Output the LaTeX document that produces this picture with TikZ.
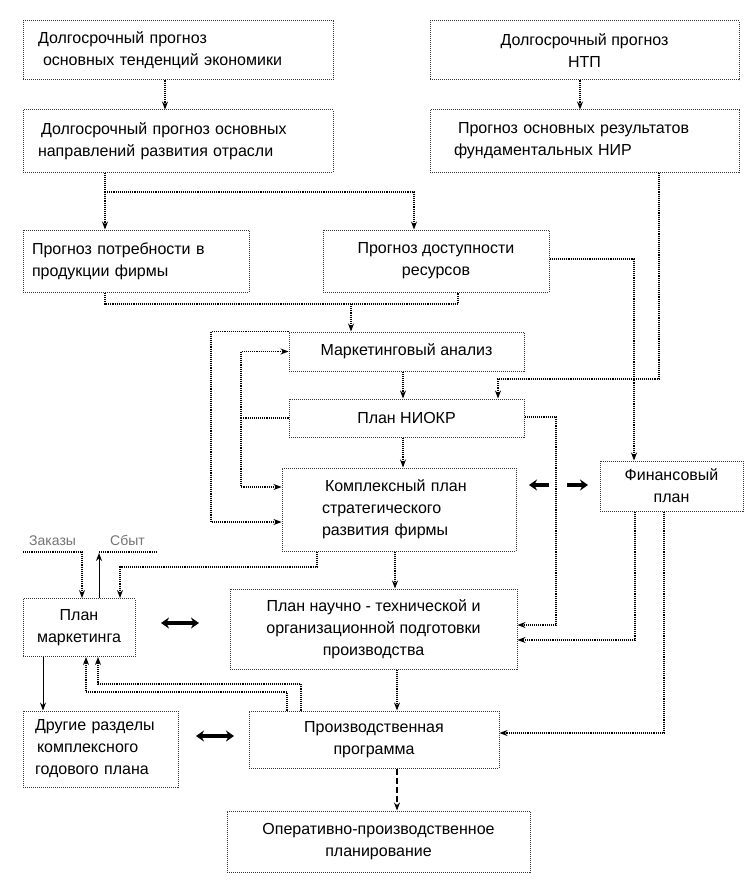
\documentclass[tikz,border=0pt]{standalone}
\usepackage{fontspec}
\setmainfont{Liberation Sans}
\usetikzlibrary{arrows.meta,calc}
\begin{document}
\begin{tikzpicture}[x=1pt,y=-1pt,
 box/.style={draw=black!80, densely dotted, line width=1pt, inner ysep=2pt,
   font=\fontsize{16}{22}\selectfont},
 ln/.style={densely dotted, line width=1.1pt},
 arr/.style={ln, -{Stealth[length=8pt,width=6pt]}},
 sarr/.style={line width=1pt, -{Stealth[length=8pt,width=6pt]}},
 darr/.style={line width=1.1pt, dash pattern=on 6pt off 3pt, -{Stealth[length=8pt,width=6pt]}},
 dbl/.style={line width=4pt, {Stealth[length=8pt,width=11pt]}-{Stealth[length=8pt,width=11pt]}},
 thk/.style={line width=4pt, -{Stealth[length=8pt,width=11pt]}},
 lbl/.style={font=\fontsize{14}{16}\selectfont, text=black!55, inner sep=0pt}
]
\useasboundingbox (0,0) rectangle (747,888);

% boxes
\node[box, minimum width=310pt, minimum height=59pt, text width=280pt, inner xsep=15pt, align=left] (b1) at (178,50.5)
  {Долгосрочный прогноз\\\hspace*{5pt}основных тенденций экономики};
\node[box, minimum width=309pt, minimum height=59pt, align=center] (b2) at (584.5,50.5)
  {Долгосрочный прогноз\\НТП};
\node[box, minimum width=310pt, minimum height=62pt, text width=280pt, inner xsep=15pt, align=left] (b3) at (178,141)
  {\hspace*{3pt}Долгосрочный прогноз основных\\направлений развития отрасли};
\node[box, minimum width=309pt, minimum height=62pt, text width=261pt, inner xsep=24pt, align=left] (b4) at (584.5,141)
  {\hspace*{4pt}Прогноз основных результатов\\фундаментальных НИР};
\node[box, minimum width=226pt, minimum height=62pt, text width=208pt, inner xsep=9pt, align=left] (b5) at (136,261)
  {Прогноз потребности в\\продукции фирмы};
\node[box, minimum width=226pt, minimum height=62pt, align=center] (b6) at (436,261)
  {Прогноз доступности\\ресурсов};
\node[box, minimum width=235pt, minimum height=39pt, align=center] (ma) at (406.5,351.5)
  {Маркетинговый анализ};
\node[box, minimum width=235pt, minimum height=38pt, align=center] (niokr) at (406.5,418)
  {План НИОКР};
\node[box, minimum width=234pt, minimum height=83pt, text width=154pt, inner xsep=40pt, align=left] (kp) at (399,509.5)
  {\hspace*{3pt}Комплексный план\\стратегического\\развития фирмы};
\node[box, minimum width=143pt, minimum height=50pt, align=center] (fin) at (671.5,486)
  {Финансовый\\план};
\node[box, minimum width=112pt, minimum height=58pt, align=center] (pm) at (79,627.5)
  {План\\маркетинга};
\node[box, minimum width=287pt, minimum height=80pt, align=center] (pnt) at (373.5,629)
  {План научно - технической и\\организационной подготовки\\производства};
\node[box, minimum width=155pt, minimum height=76pt, text width=131pt, inner xsep=12pt, align=left] (dr) at (100.5,749)
  {Другие разделы\\\hspace*{2pt}комплексного\\годового плана};
\node[box, minimum width=250pt, minimum height=57pt, align=center] (pp) at (374,739.5)
  {Производственная\\программа};
\node[box, minimum width=303pt, minimum height=61pt, align=center] (op) at (378.5,841.5)
  {Оперативно-производственное\\планирование};

% top connectors
\draw[arr] (165,0 |- b1.south) -- (165,0 |- b3.north);
\draw[arr] (580,0 |- b2.south) -- (580,0 |- b4.north);
\coordinate (j1) at (105,192);
\draw[ln] (105,0 |- b3.south) -- (j1);
\draw[arr] (j1) -- (105,0 |- b5.north);
\draw[arr] (j1) -| (414,0 |- b6.north);
\coordinate (j2) at (351,304);
\draw[ln] (105,0 |- b5.south) |- (j2) -| (458,0 |- b6.south);
\draw[arr] (j2) -- (351,0 |- ma.north);
\draw[arr] (b6.east |- 0,259) -| (634,0 |- fin.north);
\draw[arr] (659,0 |- b4.south) |- (498,379) -- (498,0 |- niokr.north);

% middle
\draw[arr] (403,0 |- ma.south) -- (403,0 |- niokr.north);
\draw[arr] (403,0 |- niokr.south) -- (403,0 |- kp.north);
\draw[arr] (ma.north west) -- (211,0 |- ma.north west) |- (kp.west |- 0,522);
\coordinate (j3) at (241,0 |- niokr.west);
\draw[ln] (niokr.west) -- (j3);
\draw[arr] (j3) |- (ma.west);
\draw[arr] (j3) |- (kp.west |- 0,487);
\draw[arr] (niokr.east |- 0,417) -| (556,625) -- (pnt.east |- 0,625);
\draw[arr] (635,0 |- fin.south) |- (pnt.east |- 0,640);
\draw[arr] (664,0 |- fin.south) |- (pp.east |- 0,733);
\coordinate (l1) at (549,485);
\coordinate (l2) at (529,485);
\coordinate (r1) at (567,485);
\coordinate (r2) at (588,485);
\draw[thk] (l1) -- (l2);
\draw[thk] (r1) -- (r2);

% lower
\draw[arr] (395,0 |- kp.south) -- (395,0 |- pnt.north);
\draw[arr] (317,0 |- kp.south) |- (120,567) -- (120,0 |- pm.north);
\coordinate (z0) at (23,552);
\draw[arr] (z0) -| (82,0 |- pm.north);
\coordinate (s1) at (157,552);
\draw[sarr] (99,0 |- pm.north) -- (99,553);
\draw[ln] (99,552) -- (s1);
\node[lbl, anchor=base west] (zak) at (29,545) {Заказы};
\node[lbl, anchor=base west] (sby) at (110,545) {Сбыт};
\coordinate (d1) at (161,623);
\coordinate (d2) at (199,623);
\draw[dbl] (d1) -- (d2);
\draw[sarr] (43,0 |- pm.south) -- (43,0 |- dr.north);
\draw[arr] (287,0 |- pp.north) |- (86,692) -- (86,0 |- pm.south);
\draw[arr] (301,0 |- pp.north) |- (98,684) -- (98,0 |- pm.south);
\draw[arr] (397,0 |- pnt.south) -- (397,0 |- pp.north);
\coordinate (d3) at (196,736);
\coordinate (d4) at (234,736);
\draw[dbl] (d3) -- (d4);
\draw[darr] (397,0 |- pp.south) -- (397,0 |- op.north);
\end{tikzpicture}
\end{document}
